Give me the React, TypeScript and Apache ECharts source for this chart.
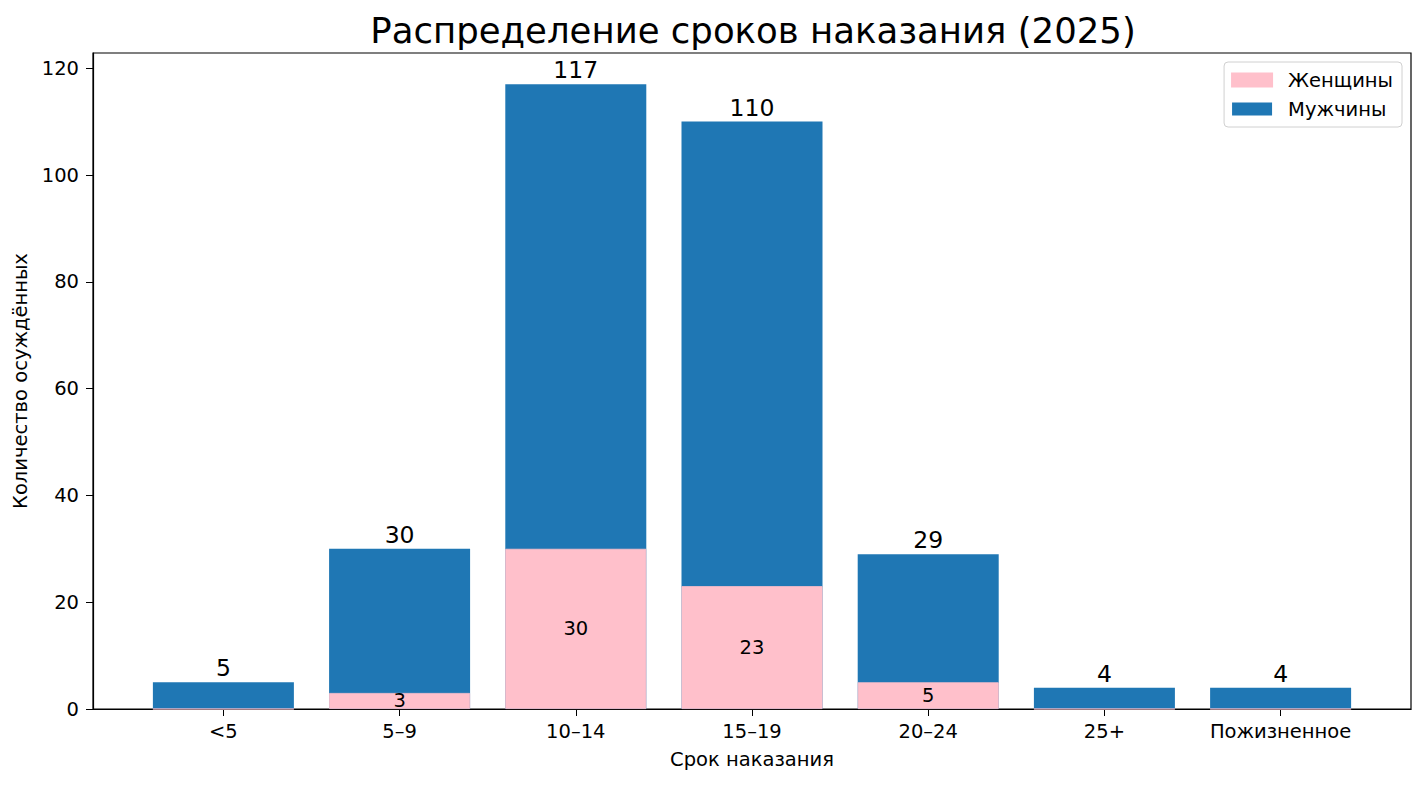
import React, { useEffect, useRef } from "react";
import * as echarts from "echarts";

const categories = ["<5", "5–9", "10–14", "15–19", "20–24", "25+", "Пожизненное"];
const women = [0, 3, 30, 23, 5, 0, 0];
const men = [5, 27, 87, 87, 24, 4, 4];
const yTicks = [0, 20, 40, 60, 80, 100, 120];

const FONT = "DejaVu Sans";
const FS = 19.5;

export default function App() {
  const ref = useRef<HTMLDivElement>(null);
  useEffect(() => {
    if (!ref.current) return;
    const chart = echarts.init(ref.current, undefined, { renderer: "svg" });
    const totals = women.map((w, i) => w + men[i]);
    const positions = categories.map((_, i) => i);
    const option: any = {
      animation: false,
      backgroundColor: "#ffffff",
      textStyle: { fontFamily: FONT, color: "#000" },
      grid: {
        left: 93,
        right: 15,
        top: 53,
        bottom: 76,
        show: true,
        borderColor: "#000",
        borderWidth: 1.2,
        backgroundColor: "transparent",
      },
      graphic: [
        {
          type: "text",
          x: 753,
          y: 30,
          style: {
            text: "Распределение сроков наказания (2025)",
            fontFamily: FONT,
            fontSize: 35.5,
            fill: "#000",
            textAlign: "center",
            textVerticalAlign: "middle",
          },
        },
      ],
      legend: {
        right: 24,
        top: 62,
        orient: "vertical",
        data: ["Женщины", "Мужчины"],
        itemWidth: 40,
        itemHeight: 13,
        itemGap: 9,
        padding: [8, 9, 8, 7],
        backgroundColor: "#fff",
        borderColor: "#d0d0d0",
        borderWidth: 1,
        borderRadius: 4,
        textStyle: { fontFamily: FONT, fontSize: FS, color: "#000", padding: [0, 0, 0, 11] },
        icon: "rect",
      },
      xAxis: {
        type: "value",
        min: -0.74,
        max: 6.74,
        name: "Срок наказания",
        nameLocation: "middle",
        nameGap: 40,
        nameTextStyle: { fontFamily: FONT, fontSize: FS, color: "#000" },
        axisLine: { show: true, lineStyle: { color: "#000", width: 1.2 } },
        axisTick: { show: true, customValues: positions, length: 7, lineStyle: { color: "#000" } },
        axisLabel: {
          show: true,
          customValues: positions,
          formatter: (v: number) => categories[Math.round(v)] ?? "",
          fontFamily: FONT,
          fontSize: FS,
          color: "#000",
          margin: 12,
        },
        splitLine: { show: false },
      },
      yAxis: {
        type: "value",
        min: 0,
        max: 122.85,
        interval: 20,
        name: "Количество осуждённых",
        nameLocation: "middle",
        nameGap: 61,
        nameRotate: 90,
        nameTextStyle: { fontFamily: FONT, fontSize: FS, color: "#000" },
        axisLine: { show: true, onZero: false, lineStyle: { color: "#000", width: 1.2 } },
        axisTick: { show: true, customValues: yTicks, length: 7, lineStyle: { color: "#000" } },
        axisLabel: {
          customValues: yTicks,
          fontFamily: FONT,
          fontSize: FS,
          color: "#000",
          margin: 14,
          formatter: (v: number) => String(v),
        },
        splitLine: { show: false },
      },
      series: [
        {
          name: "Мужчины",
          type: "bar",
          barWidth: 141,
          barGap: "-100%",
          itemStyle: { color: "#1f77b4" },
          data: totals.map((t, i) => [positions[i], t]),
          label: {
            show: true,
            position: "top",
            distance: 2,
            fontFamily: FONT,
            fontSize: 23.5,
            color: "#000",
            formatter: (p: any) => String(totals[p.dataIndex]),
          },
        },
        {
          name: "Женщины",
          type: "bar",
          barWidth: 141,
          barGap: "-100%",
          z: 3,
          itemStyle: { color: "#ffc0cb", borderColor: "#ffc0cb", borderWidth: 0.8 },
          data: women.map((w, i) => [positions[i], w]),
          label: {
            show: true,
            position: "inside",
            fontFamily: FONT,
            fontSize: FS,
            color: "#000",
            formatter: (p: any) => (women[p.dataIndex] > 0 ? String(women[p.dataIndex]) : ""),
          },
        },
      ],
    };
    chart.setOption(option);
    return () => chart.dispose();
  }, []);
  return (
    <div
      ref={ref}
      style={{ position: "fixed", left: 0, top: 0, width: 1426, height: 785 }}
    />
  );
}
